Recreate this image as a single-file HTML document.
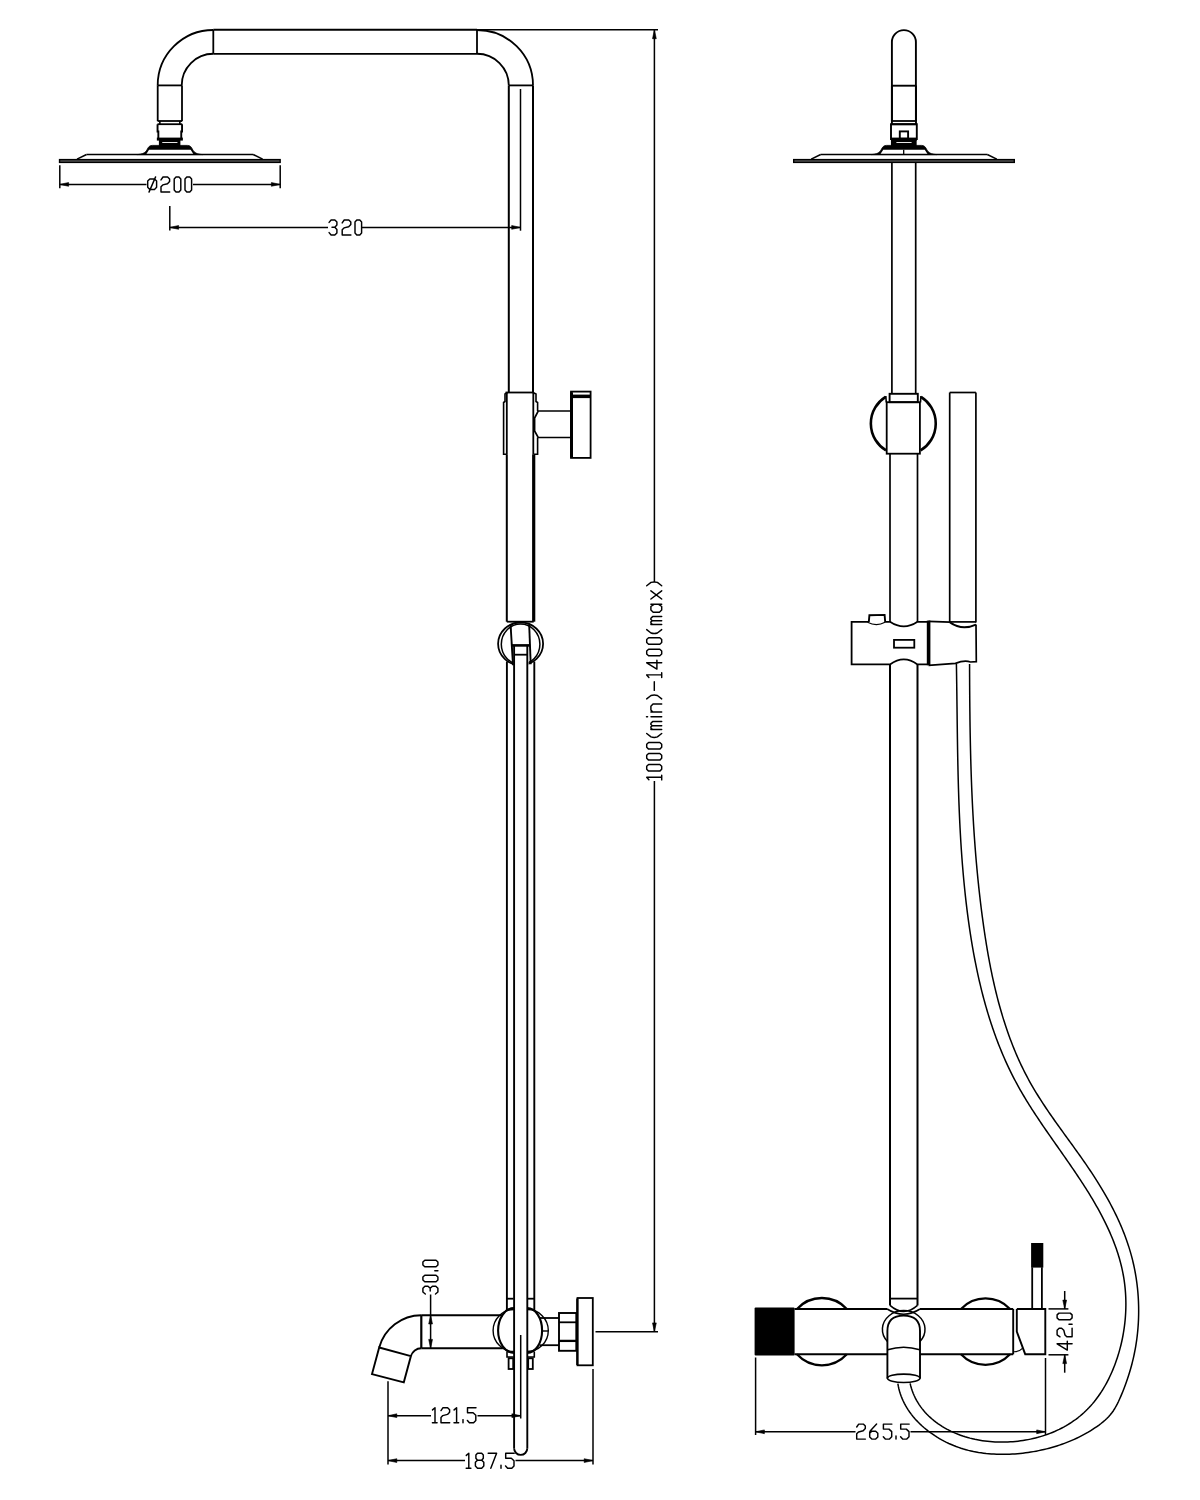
<!DOCTYPE html>
<html><head><meta charset="utf-8"><title>Shower system drawing</title>
<style>
html,body{margin:0;padding:0;background:#fff;}
body{width:1200px;height:1500px;overflow:hidden;font-family:"Liberation Sans",sans-serif;}
svg{display:block;}
</style></head>
<body>
<svg width="1200" height="1500" viewBox="0 0 1200 1500">
<rect width="1200" height="1500" fill="#fff"/>
<g stroke="#000" fill="none" stroke-linecap="butt" stroke-linejoin="miter">
<g transform="translate(169.85,0)">
<path d="M-12.15,85.40L-12.15,121.20" stroke-width="1.8"/>
<path d="M12.15,85.40L12.15,121.20" stroke-width="1.8"/>
<path d="M-12.15,121.00L12.15,121.00" stroke-width="1.8"/>
<path d="M-10.00,121.00L-10.00,124.20" stroke-width="1.6"/>
<path d="M10.00,121.00L10.00,124.20" stroke-width="1.6"/>
<path d="M-12.40,124.20L12.40,124.20" stroke-width="1.8"/>
<path d="M-12.3,124.3L-12.3,131.5L-11.5,131.5L-11.5,139.0L11.4,139.0L11.4,131.5L12.2,131.5L12.2,124.3" stroke-width="1.9" fill="none" />
<rect x="-13.0" y="137.6" width="26" height="3.0" fill="#000" stroke="none"/>
<rect x="-10.95" y="139.5" width="21.50" height="6.6" fill="#000" stroke="none"/>
<path d="M-7.6,142.5L7.6,142.5" stroke="#fff" stroke-width="0.9"/>
<path d="M-33,154.6C-27,154.2 -24.5,152.6 -23,150C-21.6,147.2 -20.6,145.4 -17.5,145.4L17.5,145.4C20.6,145.4 21.6,147.2 23,150C24.5,152.6 27,154.2 33,154.6Z" stroke-width="0.8" fill="#000" />
<path d="M-23.8,154.6L-20.8,149.7L20.8,149.7L23.8,154.6Z" stroke-width="0" fill="#fff" stroke="none"/>
<path d="M-83.30,154.50L83.30,154.50" stroke-width="1.7"/>
<path d="M-92.80,159.20L-83.30,154.50" stroke-width="1.5"/>
<path d="M92.80,159.20L83.30,154.50" stroke-width="1.5"/>
<rect x="-110.30" y="159.60" width="220.60" height="2.80" stroke-width="1.4" fill="#555"/>
</g>
<g transform="translate(904.00,0)">
<path d="M-12.10,85.40L-12.10,124.40" stroke-width="1.9"/>
<path d="M12.00,85.40L12.00,124.40" stroke-width="1.9"/>
<path d="M-12.10,121.00L12.00,121.00" stroke-width="1.8"/>
<path d="M-12.10,124.20L12.00,124.20" stroke-width="1.8"/>
<path d="M-13.0,124.3L12.8,124.3L12.8,139.0L-13.0,139.0Z" stroke-width="1.9" fill="none" />
<rect x="-4.20" y="131.40" width="8.30" height="7.40" stroke-width="1.9" fill="none"/>
<rect x="-13.0" y="137.6" width="26" height="3.0" fill="#000" stroke="none"/>
<rect x="-13.05" y="139.5" width="25.70" height="6.6" fill="#000" stroke="none"/>
<path d="M-7.6,142.5L7.6,142.5" stroke="#fff" stroke-width="0.9"/>
<path d="M-33,154.6C-27,154.2 -24.5,152.6 -23,150C-21.6,147.2 -20.6,145.4 -17.5,145.4L17.5,145.4C20.6,145.4 21.6,147.2 23,150C24.5,152.6 27,154.2 33,154.6Z" stroke-width="0.8" fill="#000" />
<path d="M-23.8,154.6L-20.8,149.7L20.8,149.7L23.8,154.6Z" stroke-width="0" fill="#fff" stroke="none"/>
<path d="M-0.30,149.70L-0.30,154.40" stroke-width="1.3"/>
<path d="M-83.30,154.50L83.30,154.50" stroke-width="1.7"/>
<path d="M-92.80,159.20L-83.30,154.50" stroke-width="1.5"/>
<path d="M92.80,159.20L83.30,154.50" stroke-width="1.5"/>
<rect x="-110.30" y="159.60" width="220.60" height="2.80" stroke-width="1.4" fill="#555"/>
</g>
<path d="M213.30,29.75L477.00,29.75" stroke-width="2.0"/>
<path d="M213.30,53.85L477.00,53.85" stroke-width="1.9"/>
<path d="M213.30,30.00L213.30,53.75" stroke-width="1.8"/>
<path d="M477.00,30.00L477.00,53.75" stroke-width="1.8"/>
<path d="M213.3,30.0A55.6,55.4 0 0 0 157.7,85.4" stroke-width="1.8" fill="none" />
<path d="M213.3,53.75A31.6,31.65 0 0 0 181.7,85.4" stroke-width="1.8" fill="none" />
<path d="M157.70,85.40L182.10,85.40" stroke-width="1.8"/>
<path d="M477.0,30.0A56,55.4 0 0 1 533.0,85.4" stroke-width="1.8" fill="none" />
<path d="M477.0,53.75A31.8,31.65 0 0 1 508.8,85.4" stroke-width="1.8" fill="none" />
<path d="M508.80,85.40L533.00,85.40" stroke-width="1.8"/>
<path d="M508.80,85.40L508.80,392.50" stroke-width="2.0"/>
<path d="M533.00,85.40L533.00,392.50" stroke-width="2.0"/>
<path d="M505.50,392.50L533.50,392.50" stroke-width="1.8"/>
<path d="M507.5,392.5L505.0,394.0L505.0,401.5L503.6,402.5L503.6,454.3L506.8,454.3" stroke-width="1.6" fill="none" />
<path d="M506.80,392.50L506.80,454.30" stroke-width="1.8"/>
<path d="M533.0,392.5L536.0,394.0L536.0,401.5L537.6,402.5L537.6,411.0" stroke-width="1.6" fill="none" />
<path d="M537.6,437.5L537.6,454.3L533.7,454.3" stroke-width="1.6" fill="none" />
<path d="M533.30,392.50L533.30,454.30" stroke-width="1.8"/>
<path d="M570.2,411.0L538.2,411.0L534.6,418.0L534.6,431.0L538.2,437.5L570.2,437.5" stroke-width="1.7" fill="none" />
<rect x="571.00" y="391.60" width="19.60" height="66.30" stroke-width="1.8" fill="none"/>
<rect x="570.0" y="392.2" width="3.0" height="65.5" fill="#000" stroke="none"/>
<rect x="572.5" y="394.6" width="18" height="3.5" fill="#000" stroke="none"/>
<path d="M506.80,454.30L506.80,621.70" stroke-width="2.0"/>
<path d="M533.70,454.30L533.70,621.70" stroke-width="3.2"/>
<ellipse cx="520.6" cy="643.8" rx="22.5" ry="21.3" stroke-width="1.8" fill="none"/>
<ellipse cx="520.6" cy="644.2" rx="19.3" ry="20.2" stroke-width="1.5" fill="none"/>
<rect x="513.0" y="650" width="15.6" height="18" fill="#fff" stroke="none"/>
<path d="M506.80,621.70L533.70,621.70" stroke-width="1.8"/>
<path d="M510.6,625.0L513.0,665.3" stroke-width="1.9" fill="none" />
<path d="M529.2,625.0L530.7,664.3" stroke-width="1.9" fill="none" />
<path d="M511.80,645.40L529.60,645.40" stroke-width="2.6"/>
<path d="M514.10,654.70L527.30,654.70" stroke-width="1.8"/>
<path d="M506.90,661.50L506.90,1310.70" stroke-width="1.9"/>
<path d="M534.30,661.50L534.30,1310.70" stroke-width="1.9"/>
<path d="M514.10,645.40L514.10,1448.30" stroke-width="1.9"/>
<path d="M527.30,645.40L527.30,1448.30" stroke-width="1.9"/>
<path d="M514.1,1448.3A6.6,6.6 0 0 0 527.3,1448.3" stroke-width="1.9" fill="none" />
<path d="M506.90,1298.70L513.60,1298.70" stroke-width="1.8"/>
<path d="M527.60,1298.70L534.30,1298.70" stroke-width="1.8"/>
<path d="M514.1,1308.0A16,22.5 0 0 0 514.1,1353.0" stroke-width="2.1" fill="none" />
<path d="M514.1,1309.5A21,21 0 0 0 514.1,1351.5" stroke-width="1.4" fill="none" />
<path d="M527.3,1308.0A14.8,22.5 0 0 1 527.3,1353.0" stroke-width="2.1" fill="none" />
<path d="M527.3,1309.5A21,21 0 0 1 527.3,1351.5" stroke-width="1.4" fill="none" />
<path d="M542.00,1331.00L548.20,1331.00" stroke-width="1.4"/>
<path d="M507.0,1351.5L507.0,1357.0L513.8,1357.0" stroke-width="1.6" fill="none" />
<path d="M534.3,1351.5L534.3,1357.0L527.4,1357.0" stroke-width="1.6" fill="none" />
<rect x="508.60" y="1358.30" width="4.60" height="10.70" stroke-width="1.8" fill="none"/>
<rect x="528.20" y="1358.30" width="4.60" height="10.70" stroke-width="1.8" fill="none"/>
<path d="M421.30,1315.20L502.80,1315.20" stroke-width="1.9"/>
<path d="M421.30,1348.20L502.80,1348.20" stroke-width="1.9"/>
<path d="M421.30,1315.20L421.30,1348.20" stroke-width="2.2"/>
<path d="M421.3,1315.2A43.7,43.7 0 0 0 379.2,1347.5" stroke-width="1.9" fill="none" />
<path d="M421.3,1348.2A10.8,10.8 0 0 0 410.9,1356.1" stroke-width="1.9" fill="none" />
<path d="M379.2,1347.5L410.9,1356.1L403.8,1382.3L372.0,1374.1Z" stroke-width="1.9" fill="none" />
<path d="M539.50,1318.00L558.90,1318.00" stroke-width="1.8"/>
<path d="M539.50,1345.20L558.90,1345.20" stroke-width="1.8"/>
<rect x="559.00" y="1313.00" width="17.30" height="37.80" stroke-width="1.9" fill="none"/>
<path d="M559.00,1322.30L576.30,1322.30" stroke-width="1.8"/>
<path d="M559.00,1340.90L576.30,1340.90" stroke-width="2.3"/>
<rect x="577.50" y="1298.00" width="15.30" height="67.30" stroke-width="1.8" fill="none"/>
<rect x="576.2" y="1298.5" width="2.2" height="66.5" fill="#000" stroke="none"/>
<path d="M891.9,121.0L891.9,42.1A12,12 0 0 1 915.9,42.1L915.9,121.0" stroke-width="1.9" fill="none" />
<path d="M891.90,85.70L915.90,85.70" stroke-width="1.9"/>
<path d="M891.90,162.50L891.90,393.50" stroke-width="1.7"/>
<path d="M915.70,162.50L915.70,393.50" stroke-width="1.7"/>
<rect x="889.60" y="393.80" width="28.20" height="8.40" stroke-width="1.9" fill="none"/>
<rect x="886.70" y="402.20" width="33.20" height="51.50" stroke-width="1.8" fill="none"/>
<path d="M885.6,396.8A31.5,31.5 0 0 0 886.0,450.4" stroke-width="2.6" fill="none" />
<path d="M921.0,396.8A31.5,31.5 0 0 1 920.6,450.4" stroke-width="2.6" fill="none" />
<path d="M885.80,396.00L886.30,402.50" stroke-width="1.6"/>
<path d="M920.90,396.00L920.50,402.50" stroke-width="1.6"/>
<path d="M890.00,453.70L890.00,622.00" stroke-width="1.7"/>
<path d="M917.50,453.70L917.50,622.00" stroke-width="1.7"/>
<path d="M949.70,392.50L975.90,392.50" stroke-width="1.7"/>
<path d="M949.70,392.50L949.70,622.00" stroke-width="1.7"/>
<path d="M975.90,392.50L975.90,622.50" stroke-width="1.7"/>
<path d="M868.0,621.8L851.6,621.8L851.6,664.4L890.0,664.4Q903.8,654.5 917.5,664.4L928.0,664.4" stroke-width="1.8" fill="none" />
<path d="M885.0,621.8L890.0,621.8Q903.8,631.0 917.5,621.8L928.0,621.8" stroke-width="1.8" fill="none" />
<rect x="926.8" y="620.6" width="3.6" height="44.6" fill="#000" stroke="none"/>
<rect x="894.00" y="639.90" width="20.30" height="7.80" stroke-width="1.8" fill="none"/>
<path d="M868.8,622.0L869.4,615.3L884.6,614.9L885.2,622.0" stroke-width="1.9" fill="none" />
<path d="M867.6,622.2Q876.5,627.0 885.0,622.2" stroke-width="1.3" fill="none" />
<path d="M928.5,621.4L950.0,622.2M976.0,624.6L976.3,661.6L970.5,662.0Q964.5,659.8 955.5,663.4L928.5,665.3" stroke-width="1.7" fill="none" />
<path d="M949.70,621.90L976.00,621.90" stroke-width="1.7"/>
<path d="M950.0,622.4Q962.0,631.0 976.0,624.6" stroke-width="2.0" fill="none" />
<path d="M890.00,664.40L890.00,1305.50" stroke-width="2.0"/>
<path d="M917.50,664.40L917.50,1305.50" stroke-width="2.0"/>
<path d="M890.00,1298.60L917.50,1298.60" stroke-width="1.8"/>
<path d="M890.0,1305.4Q903.6,1317.5 917.5,1305.4" stroke-width="1.5" fill="none" />
<path d="M887.2,1309.0Q903.6,1319.5 920.0,1309.0" stroke-width="1.5" fill="none" />
<path d="M797.0,1309.0A33.7,33.7 0 0 1 846.8,1309.0" stroke-width="2.3" fill="none" />
<path d="M797.0,1354.3A33.7,33.7 0 0 0 846.8,1354.3" stroke-width="2.3" fill="none" />
<path d="M961.0,1309.0A33.7,33.7 0 0 1 1010.0,1309.0" stroke-width="2.3" fill="none" />
<path d="M961.0,1354.3A33.7,33.7 0 0 0 1010.0,1354.3" stroke-width="2.3" fill="none" />
<path d="M794.50,1309.00L887.30,1309.00" stroke-width="1.9"/>
<path d="M920.00,1309.00L1013.20,1309.00" stroke-width="1.9"/>
<path d="M794.50,1354.30L887.30,1354.30" stroke-width="1.9"/>
<path d="M920.00,1354.30L1013.20,1354.30" stroke-width="1.9"/>
<path d="M1013.20,1309.00L1013.20,1354.30" stroke-width="1.9"/>
<rect x="754.6" y="1307.4" width="40" height="48.2" rx="1" fill="#000" stroke="none"/>
<path d="M887.4,1341.5A21.3,18.8 0 1 1 920.0,1341.5" stroke-width="1.5" fill="none" />
<path d="M887.4,1378.5L887.4,1331.0Q887.4,1315.6 903.6,1315.6Q920.0,1315.6 920.0,1331.0L920.0,1378.5" stroke-width="1.9" fill="none" />
<path d="M887.6,1349.8Q903.6,1344.6 919.8,1349.8" stroke-width="1.6" fill="none" />
<ellipse cx="903.7" cy="1378.3" rx="16.3" ry="4.2" stroke-width="1.6" fill="none"/>
<path d="M1016.8,1309.0L1045.3,1309.0L1045.3,1354.2L1025.2,1354.2L1016.8,1331.7L1016.8,1309.0" stroke-width="1.9" fill="none" />
<path d="M1013.4,1351.7Q1019.0,1352.0 1022.4,1348.3" stroke-width="1.1" fill="none" />
<path d="M1032.20,1267.30L1032.20,1309.00" stroke-width="1.8"/>
<path d="M1041.90,1267.30L1041.90,1309.00" stroke-width="1.8"/>
<rect x="1031.1" y="1243.0" width="12.2" height="24.6" fill="#000" stroke="none"/>
<path d="M969.57,663.96L969.58,666.61L969.58,669.25L969.59,671.90L969.60,674.55L969.61,677.19L969.63,679.83L969.64,682.48L969.65,685.12L969.67,687.76L969.68,690.40L969.70,693.04L969.72,695.67L969.74,698.31L969.76,700.95L969.79,703.58L969.81,706.22L969.84,708.85L969.87,711.48L969.90,714.11L969.93,716.74L969.96,719.37L970.00,722.00L970.03,724.63L970.07,727.26L970.12,729.89L970.16,732.52L970.21,735.14L970.26,737.77L970.31,740.39L970.36,743.02L970.42,745.64L970.47,748.26L970.54,750.88L970.60,753.51L970.67,756.13L970.73,758.75L970.81,761.37L970.88,763.99L970.96,766.61L971.04,769.23L971.12,771.84L971.21,774.46L971.30,777.08L971.39,779.70L971.49,782.31L971.59,784.93L971.69,787.54L971.80,790.16L971.91,792.78L972.03,795.39L972.14,798.00L972.27,800.62L972.39,803.23L972.52,805.85L972.65,808.46L972.79,811.07L972.93,813.69L973.08,816.30L973.22,818.91L973.38,821.52L973.53,824.13L973.70,826.75L973.86,829.36L974.03,831.97L974.21,834.58L974.39,837.19L974.57,839.80L974.76,842.42L974.95,845.03L975.15,847.64L975.35,850.25L975.56,852.86L975.77,855.47L975.99,858.08L976.21,860.69L976.44,863.30L976.68,865.92L976.91,868.53L977.16,871.14L977.41,873.75L977.66,876.36L977.92,878.97L978.19,881.59L978.46,884.20L978.73,886.81L979.01,889.42L979.30,892.04L979.60,894.65L979.90,897.26L980.20,899.88L980.51,902.49L980.83,905.10L981.15,907.72L981.48,910.33L981.82,912.95L982.16,915.56L982.51,918.18L982.87,920.80L983.23,923.41L983.60,926.03L983.97,928.64L984.35,931.26L984.74,933.88L985.14,936.49L985.55,939.11L985.96,941.72L986.38,944.33L986.81,946.95L987.25,949.56L987.70,952.16L988.16,954.77L988.63,957.38L989.11,959.98L989.59,962.58L990.09,965.18L990.60,967.77L991.12,970.36L991.65,972.95L992.19,975.54L992.74,978.12L993.31,980.70L993.89,983.28L994.48,985.85L995.08,988.42L995.69,990.98L996.32,993.54L996.96,996.09L997.61,998.64L998.28,1001.19L998.96,1003.73L999.66,1006.26L1000.37,1008.79L1001.09,1011.32L1001.83,1013.83L1002.58,1016.34L1003.35,1018.85L1004.14,1021.35L1004.94,1023.84L1005.75,1026.33L1006.59,1028.81L1007.44,1031.28L1008.30,1033.75L1009.19,1036.20L1010.09,1038.65L1011.00,1041.10L1011.94,1043.53L1012.89,1045.96L1013.86,1048.38L1014.85,1050.78L1015.86,1053.19L1016.89,1055.58L1017.94,1057.96L1019.00,1060.34L1020.09,1062.70L1021.19,1065.06L1022.32,1067.40L1023.46,1069.74L1024.63,1072.07L1025.82,1074.38L1027.02,1076.69L1028.25,1078.98L1029.50,1081.27L1030.77,1083.54L1032.07,1085.81L1033.38,1088.06L1034.71,1090.30L1036.06,1092.54L1037.43,1094.76L1038.82,1096.98L1040.22,1099.19L1041.64,1101.39L1043.07,1103.59L1044.51,1105.78L1045.97,1107.96L1047.44,1110.13L1048.92,1112.31L1050.41,1114.47L1051.92,1116.63L1053.42,1118.79L1054.94,1120.95L1056.47,1123.10L1058.00,1125.25L1059.54,1127.39L1061.08,1129.54L1062.62,1131.68L1064.17,1133.82L1065.72,1135.96L1067.27,1138.10L1068.82,1140.24L1070.38,1142.39L1071.93,1144.53L1073.48,1146.67L1075.02,1148.82L1076.57,1150.97L1078.11,1153.12L1079.64,1155.28L1081.17,1157.44L1082.69,1159.60L1084.20,1161.77L1085.71,1163.94L1087.20,1166.12L1088.69,1168.30L1090.17,1170.49L1091.63,1172.69L1093.08,1174.89L1094.52,1177.11L1095.94,1179.33L1097.36,1181.55L1098.75,1183.79L1100.13,1186.03L1101.50,1188.28L1102.85,1190.53L1104.18,1192.80L1105.49,1195.07L1106.79,1197.36L1108.07,1199.65L1109.33,1201.94L1110.57,1204.25L1111.79,1206.57L1112.99,1208.89L1114.17,1211.23L1115.33,1213.57L1116.47,1215.92L1117.58,1218.28L1118.67,1220.65L1119.74,1223.03L1120.78,1225.42L1121.80,1227.82L1122.79,1230.23L1123.75,1232.65L1124.69,1235.07L1125.61,1237.51L1126.49,1239.96L1127.35,1242.42L1128.18,1244.89L1128.98,1247.37L1129.75,1249.86L1130.49,1252.36L1131.20,1254.87L1131.87,1257.40L1132.52,1259.93L1133.13,1262.48L1133.72,1265.03L1134.27,1267.60L1134.78,1270.17L1135.27,1272.76L1135.72,1275.35L1136.14,1277.95L1136.53,1280.56L1136.88,1283.17L1137.21,1285.79L1137.50,1288.41L1137.76,1291.04L1137.98,1293.68L1138.18,1296.31L1138.34,1298.95L1138.47,1301.59L1138.56,1304.24L1138.63,1306.88L1138.66,1309.53L1138.66,1312.17L1138.63,1314.82L1138.56,1317.46L1138.47,1320.11L1138.34,1322.74L1138.17,1325.38L1137.98,1328.01L1137.75,1330.64L1137.49,1333.27L1137.20,1335.89L1136.88,1338.50L1136.52,1341.11L1136.13,1343.71L1135.71,1346.30L1135.26,1348.88L1134.77,1351.46L1134.25,1354.02L1133.70,1356.58L1133.12,1359.13L1132.50,1361.68L1131.86,1364.21L1131.18,1366.74L1130.47,1369.26L1129.73,1371.78L1128.96,1374.28L1128.16,1376.79L1127.33,1379.28L1126.47,1381.77L1125.58,1384.26L1124.66,1386.73L1123.71,1389.21L1122.73,1391.68L1121.72,1394.14L1120.68,1396.60L1119.61,1399.05L1118.50,1401.48L1117.33,1403.88L1116.10,1406.22L1114.79,1408.50L1113.40,1410.69L1111.90,1412.79L1110.30,1414.79L1108.61,1416.69L1106.83,1418.51L1104.97,1420.24L1103.04,1421.90L1101.05,1423.50L1099.01,1425.05L1096.92,1426.54L1094.79,1427.99L1092.62,1429.41L1090.43,1430.78L1088.20,1432.12L1085.94,1433.41L1083.65,1434.67L1081.34,1435.89L1078.99,1437.07L1076.62,1438.21L1074.23,1439.31L1071.81,1440.38L1069.36,1441.40L1066.90,1442.38L1064.42,1443.33L1061.91,1444.24L1059.39,1445.10L1056.85,1445.93L1054.30,1446.72L1051.73,1447.47L1049.15,1448.18L1046.56,1448.86L1043.95,1449.49L1041.34,1450.08L1038.71,1450.64L1036.08,1451.16L1033.45,1451.63L1030.80,1452.07L1028.16,1452.47L1025.51,1452.83L1022.86,1453.15L1020.21,1453.43L1017.56,1453.68L1014.91,1453.88L1012.26,1454.04L1009.62,1454.17L1006.98,1454.26L1004.35,1454.30L1001.73,1454.31L999.12,1454.28L996.51,1454.21L993.92,1454.09L991.33,1453.94L988.75,1453.73L986.18,1453.49L983.62,1453.19L981.07,1452.85L978.53,1452.46L976.00,1452.01L973.48,1451.52L970.97,1450.97L968.46,1450.37L965.97,1449.71L963.49,1449.00L961.02,1448.23L958.56,1447.39L956.11,1446.50L953.68,1445.55L951.25,1444.53L948.84,1443.46L946.44,1442.32L944.07,1441.12L941.72,1439.86L939.40,1438.54L937.10,1437.17L934.84,1435.73L932.62,1434.24L930.43,1432.70L928.28,1431.10L926.18,1429.44L924.13,1427.74L922.13,1425.97L920.18,1424.16L918.29,1422.30L916.46,1420.38L914.70,1418.42L913.00,1416.41L911.37,1414.35L909.81,1412.24L908.32,1410.08L906.92,1407.88L905.60,1405.64L904.36,1403.35L903.21,1401.01L902.15,1398.64L901.18,1396.22L900.31,1393.76L899.54,1391.26L898.87,1388.72L898.31,1386.14L897.86,1383.52" stroke-width="1.5" fill="none" stroke-linejoin="round"/>
<path d="M956.40,663.97L956.45,666.50L956.49,669.03L956.53,671.55L956.57,674.08L956.61,676.60L956.64,679.13L956.68,681.65L956.72,684.18L956.75,686.70L956.78,689.22L956.82,691.75L956.85,694.27L956.88,696.79L956.91,699.31L956.94,701.83L956.97,704.36L957.01,706.88L957.04,709.40L957.07,711.91L957.10,714.43L957.13,716.95L957.16,719.47L957.19,721.99L957.22,724.51L957.26,727.02L957.29,729.54L957.32,732.06L957.36,734.57L957.39,737.09L957.43,739.60L957.47,742.12L957.51,744.63L957.55,747.15L957.59,749.66L957.63,752.17L957.68,754.69L957.72,757.20L957.77,759.71L957.82,762.23L957.87,764.74L957.93,767.25L957.98,769.76L958.04,772.27L958.10,774.78L958.16,777.29L958.23,779.80L958.29,782.31L958.36,784.82L958.43,787.33L958.51,789.84L958.59,792.35L958.67,794.86L958.75,797.37L958.84,799.88L958.93,802.38L959.02,804.89L959.12,807.40L959.22,809.91L959.32,812.41L959.43,814.92L959.54,817.43L959.66,819.93L959.77,822.44L959.90,824.94L960.02,827.45L960.16,829.96L960.29,832.46L960.43,834.97L960.57,837.47L960.72,839.98L960.87,842.48L961.03,844.99L961.19,847.49L961.36,849.99L961.53,852.50L961.71,855.00L961.89,857.51L962.08,860.01L962.27,862.51L962.47,865.02L962.68,867.52L962.89,870.02L963.10,872.52L963.32,875.03L963.55,877.53L963.78,880.03L964.02,882.53L964.26,885.04L964.51,887.54L964.77,890.04L965.03,892.54L965.30,895.05L965.58,897.55L965.86,900.05L966.15,902.55L966.45,905.05L966.75,907.55L967.06,910.06L967.38,912.56L967.70,915.06L968.03,917.56L968.37,920.06L968.72,922.56L969.07,925.07L969.43,927.57L969.80,930.07L970.18,932.57L970.57,935.07L970.96,937.56L971.36,940.06L971.77,942.56L972.19,945.05L972.62,947.55L973.06,950.04L973.50,952.53L973.96,955.02L974.42,957.51L974.90,959.99L975.38,962.47L975.88,964.96L976.38,967.43L976.90,969.91L977.42,972.38L977.96,974.85L978.51,977.32L979.06,979.79L979.63,982.25L980.21,984.70L980.80,987.16L981.40,989.61L982.02,992.06L982.64,994.50L983.28,996.94L983.93,999.38L984.59,1001.81L985.26,1004.23L985.95,1006.66L986.65,1009.07L987.36,1011.49L988.08,1013.89L988.82,1016.30L989.57,1018.69L990.33,1021.09L991.11,1023.47L991.90,1025.86L992.70,1028.23L993.52,1030.60L994.36,1032.97L995.20,1035.32L996.06,1037.68L996.94,1040.02L997.83,1042.36L998.73,1044.69L999.65,1047.02L1000.59,1049.34L1001.54,1051.65L1002.51,1053.96L1003.49,1056.25L1004.48,1058.54L1005.50,1060.83L1006.53,1063.10L1007.57,1065.37L1008.63,1067.63L1009.71,1069.88L1010.80,1072.13L1011.91,1074.36L1013.04,1076.59L1014.19,1078.81L1015.35,1081.02L1016.53,1083.22L1017.72,1085.41L1018.94,1087.59L1020.17,1089.77L1021.41,1091.93L1022.67,1094.09L1023.95,1096.25L1025.23,1098.39L1026.53,1100.53L1027.85,1102.67L1029.17,1104.79L1030.51,1106.91L1031.86,1109.03L1033.22,1111.14L1034.59,1113.25L1035.97,1115.35L1037.36,1117.45L1038.75,1119.54L1040.16,1121.63L1041.57,1123.72L1042.99,1125.80L1044.41,1127.88L1045.84,1129.96L1047.27,1132.03L1048.71,1134.11L1050.15,1136.18L1051.60,1138.25L1053.05,1140.33L1054.50,1142.40L1055.95,1144.47L1057.41,1146.54L1058.86,1148.61L1060.31,1150.68L1061.77,1152.75L1063.22,1154.83L1064.67,1156.90L1066.12,1158.98L1067.57,1161.06L1069.01,1163.14L1070.45,1165.23L1071.88,1167.32L1073.31,1169.41L1074.74,1171.50L1076.16,1173.60L1077.57,1175.71L1078.97,1177.81L1080.37,1179.93L1081.76,1182.05L1083.14,1184.17L1084.51,1186.30L1085.87,1188.43L1087.22,1190.58L1088.55,1192.73L1089.88,1194.88L1091.20,1197.05L1092.50,1199.22L1093.78,1201.39L1095.06,1203.58L1096.31,1205.77L1097.55,1207.97L1098.78,1210.17L1099.99,1212.38L1101.17,1214.60L1102.34,1216.83L1103.49,1219.07L1104.62,1221.31L1105.73,1223.56L1106.82,1225.82L1107.88,1228.09L1108.92,1230.37L1109.94,1232.65L1110.93,1234.94L1111.90,1237.24L1112.84,1239.55L1113.75,1241.87L1114.64,1244.19L1115.49,1246.53L1116.32,1248.87L1117.12,1251.22L1117.89,1253.58L1118.63,1255.95L1119.33,1258.33L1120.01,1260.72L1120.65,1263.11L1121.25,1265.52L1121.82,1267.94L1122.36,1270.36L1122.86,1272.79L1123.32,1275.24L1123.75,1277.69L1124.13,1280.15L1124.48,1282.63L1124.79,1285.11L1125.06,1287.60L1125.29,1290.10L1125.49,1292.60L1125.64,1295.11L1125.76,1297.63L1125.83,1300.15L1125.88,1302.67L1125.88,1305.20L1125.84,1307.73L1125.77,1310.26L1125.66,1312.79L1125.51,1315.32L1125.32,1317.85L1125.10,1320.38L1124.84,1322.91L1124.54,1325.44L1124.20,1327.96L1123.83,1330.48L1123.42,1332.99L1122.97,1335.50L1122.49,1338.00L1121.97,1340.50L1121.41,1342.98L1120.82,1345.46L1120.19,1347.93L1119.52,1350.39L1118.82,1352.84L1118.08,1355.27L1117.31,1357.70L1116.50,1360.11L1115.65,1362.51L1114.77,1364.89L1113.85,1367.26L1112.90,1369.61L1111.91,1371.95L1110.88,1374.26L1109.82,1376.56L1108.72,1378.83L1107.57,1381.08L1106.40,1383.30L1105.18,1385.50L1103.92,1387.67L1102.62,1389.81L1101.29,1391.92L1099.91,1394.00L1098.49,1396.05L1097.03,1398.06L1095.53,1400.04L1093.99,1401.97L1092.40,1403.87L1090.77,1405.73L1089.10,1407.55L1087.39,1409.33L1085.63,1411.06L1083.82,1412.75L1081.98,1414.39L1080.09,1415.98L1078.16,1417.53L1076.19,1419.03L1074.18,1420.49L1072.14,1421.90L1070.06,1423.26L1067.94,1424.57L1065.80,1425.84L1063.62,1427.06L1061.41,1428.23L1059.18,1429.36L1056.92,1430.43L1054.63,1431.46L1052.31,1432.44L1049.97,1433.37L1047.61,1434.25L1045.23,1435.09L1042.83,1435.88L1040.41,1436.62L1037.97,1437.32L1035.52,1437.96L1033.05,1438.56L1030.56,1439.11L1028.07,1439.62L1025.56,1440.08L1023.04,1440.49L1020.52,1440.85L1017.98,1441.17L1015.44,1441.44L1012.90,1441.66L1010.35,1441.84L1007.79,1441.97L1005.24,1442.05L1002.69,1442.09L1000.13,1442.08L997.58,1442.02L995.03,1441.92L992.49,1441.76L989.95,1441.56L987.43,1441.31L984.90,1441.01L982.39,1440.66L979.89,1440.26L977.40,1439.81L974.93,1439.31L972.47,1438.75L970.02,1438.14L967.60,1437.48L965.19,1436.77L962.80,1436.00L960.43,1435.17L958.08,1434.29L955.76,1433.36L953.46,1432.37L951.18,1431.32L948.94,1430.21L946.73,1429.05L944.55,1427.83L942.40,1426.55L940.30,1425.22L938.24,1423.82L936.22,1422.37L934.25,1420.86L932.34,1419.29L930.47,1417.66L928.66,1415.97L926.91,1414.22L925.22,1412.42L923.60,1410.55L922.04,1408.62L920.55,1406.63L919.14,1404.58L917.80,1402.47L916.54,1400.30L915.36,1398.07L914.26,1395.78L913.25,1393.42L912.32,1391.00L911.49,1388.52L910.76,1385.98L910.12,1383.38" stroke-width="1.5" fill="none" stroke-linejoin="round"/>
<path d="M477.00,29.70L658.00,29.70" stroke-width="1.4"/>
<path d="M654.40,30.00L654.40,582.00" stroke-width="1.5"/>
<path d="M654.40,781.00L654.40,1331.70" stroke-width="1.5"/>
<path d="M654.40,29.90L656.30,38.70L652.50,38.70Z" fill="#000" stroke-width="0.6"/>
<path d="M654.40,1331.70L652.50,1322.90L656.30,1322.90Z" fill="#000" stroke-width="0.6"/>
<path d="M595.50,1331.70L658.00,1331.70" stroke-width="1.5"/>
<path d="M59.80,165.30L59.80,188.30" stroke-width="1.5"/>
<path d="M280.20,165.30L280.20,188.30" stroke-width="1.5"/>
<path d="M59.80,184.40L146.50,184.40" stroke-width="1.5"/>
<path d="M193.00,184.40L280.20,184.40" stroke-width="1.5"/>
<path d="M59.80,184.40L68.60,182.50L68.60,186.30Z" fill="#000" stroke-width="0.6"/>
<path d="M280.20,184.40L271.40,186.30L271.40,182.50Z" fill="#000" stroke-width="0.6"/>
<path d="M169.80,206.00L169.80,230.50" stroke-width="1.5"/>
<path d="M520.50,89.00L520.50,230.70" stroke-width="1.5"/>
<path d="M169.80,227.40L328.00,227.40" stroke-width="1.5"/>
<path d="M362.00,227.40L520.50,227.40" stroke-width="1.5"/>
<path d="M169.80,227.40L178.60,225.50L178.60,229.30Z" fill="#000" stroke-width="0.6"/>
<path d="M520.50,227.40L511.70,229.30L511.70,225.50Z" fill="#000" stroke-width="0.6"/>
<path d="M430.60,1294.50L430.60,1348.20" stroke-width="1.5"/>
<path d="M430.60,1315.20L432.50,1324.00L428.70,1324.00Z" fill="#000" stroke-width="0.6"/>
<path d="M430.60,1348.20L428.70,1339.40L432.50,1339.40Z" fill="#000" stroke-width="0.6"/>
<path d="M388.00,1381.30L388.00,1464.50" stroke-width="1.5"/>
<path d="M593.00,1369.00L593.00,1464.50" stroke-width="1.5"/>
<path d="M520.70,1335.00L520.70,1418.50" stroke-width="1.5"/>
<path d="M388.00,1415.70L431.00,1415.70" stroke-width="1.5"/>
<path d="M477.50,1415.70L520.70,1415.70" stroke-width="1.5"/>
<path d="M388.00,1415.70L396.80,1413.80L396.80,1417.60Z" fill="#000" stroke-width="0.6"/>
<path d="M520.70,1415.70L511.90,1417.60L511.90,1413.80Z" fill="#000" stroke-width="0.6"/>
<path d="M388.00,1460.60L465.00,1460.60" stroke-width="1.5"/>
<path d="M515.50,1460.60L593.00,1460.60" stroke-width="1.5"/>
<path d="M388.00,1460.60L396.80,1458.70L396.80,1462.50Z" fill="#000" stroke-width="0.6"/>
<path d="M593.00,1460.60L584.20,1462.50L584.20,1458.70Z" fill="#000" stroke-width="0.6"/>
<path d="M755.60,1357.50L755.60,1435.00" stroke-width="1.5"/>
<path d="M1045.50,1358.00L1045.50,1435.00" stroke-width="1.5"/>
<path d="M755.60,1431.80L855.50,1431.80" stroke-width="1.5"/>
<path d="M910.50,1431.80L1045.50,1431.80" stroke-width="1.5"/>
<path d="M755.60,1431.80L764.40,1429.90L764.40,1433.70Z" fill="#000" stroke-width="0.6"/>
<path d="M1045.50,1431.80L1036.70,1433.70L1036.70,1429.90Z" fill="#000" stroke-width="0.6"/>
<path d="M1048.50,1308.90L1068.40,1308.90" stroke-width="1.5"/>
<path d="M1048.50,1354.80L1068.40,1354.80" stroke-width="1.5"/>
<path d="M1064.70,1291.00L1064.70,1308.90" stroke-width="1.5"/>
<path d="M1064.70,1354.80L1064.70,1372.70" stroke-width="1.5"/>
<path d="M1064.70,1308.90L1062.80,1300.10L1066.60,1300.10Z" fill="#000" stroke-width="0.6"/>
<path d="M1064.70,1354.80L1066.60,1363.60L1062.80,1363.60Z" fill="#000" stroke-width="0.6"/>
<path transform="translate(147.00,176.30)" d="M2.8,2.7L7.5,2.7L9.6,4.8L9.6,11.0L7.5,13.1L2.8,13.1L0.7,11.0L0.7,4.8ZM8.6,0.6L2.0,15.8" stroke-width="1.45" stroke-linejoin="round" stroke-linecap="round"/>
<path transform="translate(160.30,176.30)" d="M0.7,3.6L2.7,0.7L7.3,0.7L9.3,2.7L9.3,5.2L7.2,7.4L2.5,8.6L0.7,10.4L0.7,15.7L9.4,15.7" stroke-width="1.45" stroke-linejoin="round" stroke-linecap="round"/>
<path transform="translate(173.50,176.30)" d="M2.5,0.7L5.5,0.7L7.3,2.6L7.3,13.8L5.5,15.7L2.5,15.7L0.7,13.8L0.7,2.6Z" stroke-width="1.45" stroke-linejoin="round" stroke-linecap="round"/>
<path transform="translate(184.30,176.30)" d="M2.5,0.7L5.5,0.7L7.3,2.6L7.3,13.8L5.5,15.7L2.5,15.7L0.7,13.8L0.7,2.6Z" stroke-width="1.45" stroke-linejoin="round" stroke-linecap="round"/>
<path transform="translate(328.40,219.30)" d="M0.7,3.1L2.7,0.7L6.5,0.7L8.5,2.7L8.5,5.8L6.4,8.0L3.6,8.0M6.4,8.0L8.5,10.2L8.5,13.6L6.4,15.7L2.7,15.7L0.7,13.3" stroke-width="1.45" stroke-linejoin="round" stroke-linecap="round"/>
<path transform="translate(341.50,219.30)" d="M0.7,3.6L2.7,0.7L7.3,0.7L9.3,2.7L9.3,5.2L7.2,7.4L2.5,8.6L0.7,10.4L0.7,15.7L9.4,15.7" stroke-width="1.45" stroke-linejoin="round" stroke-linecap="round"/>
<path transform="translate(354.30,219.30)" d="M2.5,0.7L5.5,0.7L7.3,2.6L7.3,13.8L5.5,15.7L2.5,15.7L0.7,13.8L0.7,2.6Z" stroke-width="1.45" stroke-linejoin="round" stroke-linecap="round"/>
<path transform="translate(431.70,1407.00)" d="M0.8,2.9L3.3,0.7L3.3,15.7M0.7,15.7L5.4,15.7" stroke-width="1.45" stroke-linejoin="round" stroke-linecap="round"/>
<path transform="translate(440.30,1407.00)" d="M0.7,3.6L2.7,0.7L7.3,0.7L9.3,2.7L9.3,5.2L7.2,7.4L2.5,8.6L0.7,10.4L0.7,15.7L9.4,15.7" stroke-width="1.45" stroke-linejoin="round" stroke-linecap="round"/>
<path transform="translate(453.30,1407.00)" d="M0.8,2.9L3.3,0.7L3.3,15.7M0.7,15.7L5.4,15.7" stroke-width="1.45" stroke-linejoin="round" stroke-linecap="round"/>
<path transform="translate(462.00,1407.00)" d="M1.0,12.6L1.0,15.7" stroke-width="1.45" stroke-linejoin="round" stroke-linecap="round"/>
<path transform="translate(466.60,1407.00)" d="M9.4,0.7L0.9,0.7L0.9,5.7L6.5,5.7L9.2,8.2L9.2,13.4L7.0,15.7L2.8,15.7L0.8,13.4" stroke-width="1.45" stroke-linejoin="round" stroke-linecap="round"/>
<path transform="translate(465.50,1452.50)" d="M0.8,2.9L3.3,0.7L3.3,15.7M0.7,15.7L5.4,15.7" stroke-width="1.45" stroke-linejoin="round" stroke-linecap="round"/>
<path transform="translate(474.70,1452.50)" d="M2.8,0.7L7.0,0.7L8.6,2.4L8.6,5.7L7.0,7.7L2.8,7.7L1.2,5.7L1.2,2.4ZM2.8,7.7L7.0,7.7L9.1,9.8L9.1,13.6L7.0,15.7L2.8,15.7L0.7,13.6L0.7,9.8Z" stroke-width="1.45" stroke-linejoin="round" stroke-linecap="round"/>
<path transform="translate(487.50,1452.50)" d="M0.7,0.7L9.1,0.7L3.3,15.7" stroke-width="1.45" stroke-linejoin="round" stroke-linecap="round"/>
<path transform="translate(500.00,1452.50)" d="M1.0,12.6L1.0,15.7" stroke-width="1.45" stroke-linejoin="round" stroke-linecap="round"/>
<path transform="translate(504.80,1452.50)" d="M9.4,0.7L0.9,0.7L0.9,5.7L6.5,5.7L9.2,8.2L9.2,13.4L7.0,15.7L2.8,15.7L0.8,13.4" stroke-width="1.45" stroke-linejoin="round" stroke-linecap="round"/>
<path transform="translate(856.00,1423.40)" d="M0.7,3.6L2.7,0.7L7.3,0.7L9.3,2.7L9.3,5.2L7.2,7.4L2.5,8.6L0.7,10.4L0.7,15.7L9.4,15.7" stroke-width="1.45" stroke-linejoin="round" stroke-linecap="round"/>
<path transform="translate(869.00,1423.40)" d="M7.6,0.7L1.6,7.0L0.7,9.0L0.7,13.6L2.8,15.7L6.7,15.7L8.8,13.6L8.8,9.9L6.7,7.8L2.8,7.8L0.9,9.6" stroke-width="1.45" stroke-linejoin="round" stroke-linecap="round"/>
<path transform="translate(882.50,1423.40)" d="M9.4,0.7L0.9,0.7L0.9,5.7L6.5,5.7L9.2,8.2L9.2,13.4L7.0,15.7L2.8,15.7L0.8,13.4" stroke-width="1.45" stroke-linejoin="round" stroke-linecap="round"/>
<path transform="translate(895.00,1423.40)" d="M1.0,12.6L1.0,15.7" stroke-width="1.45" stroke-linejoin="round" stroke-linecap="round"/>
<path transform="translate(899.80,1423.40)" d="M9.4,0.7L0.9,0.7L0.9,5.7L6.5,5.7L9.2,8.2L9.2,13.4L7.0,15.7L2.8,15.7L0.8,13.4" stroke-width="1.45" stroke-linejoin="round" stroke-linecap="round"/>
<g transform="translate(422.20,1294.70) rotate(-90)">
<path transform="translate(0.00,0)" d="M0.7,3.1L2.7,0.7L6.5,0.7L8.5,2.7L8.5,5.8L6.4,8.0L3.6,8.0M6.4,8.0L8.5,10.2L8.5,13.6L6.4,15.7L2.7,15.7L0.7,13.3" stroke-width="1.45" stroke-linejoin="round" stroke-linecap="round"/>
<path transform="translate(12.20,0)" d="M2.5,0.7L5.5,0.7L7.3,2.6L7.3,13.8L5.5,15.7L2.5,15.7L0.7,13.8L0.7,2.6Z" stroke-width="1.45" stroke-linejoin="round" stroke-linecap="round"/>
<path transform="translate(22.90,0)" d="M1.0,12.6L1.0,15.7" stroke-width="1.45" stroke-linejoin="round" stroke-linecap="round"/>
<path transform="translate(27.20,0)" d="M2.5,0.7L5.5,0.7L7.3,2.6L7.3,13.8L5.5,15.7L2.5,15.7L0.7,13.8L0.7,2.6Z" stroke-width="1.45" stroke-linejoin="round" stroke-linecap="round"/>
</g>
<g transform="translate(1056.40,1350.80) rotate(-90)">
<path transform="translate(0.00,0)" d="M7.0,15.7L7.0,0.7L0.7,10.9L9.6,10.9" stroke-width="1.45" stroke-linejoin="round" stroke-linecap="round"/>
<path transform="translate(13.30,0)" d="M0.7,3.6L2.7,0.7L7.3,0.7L9.3,2.7L9.3,5.2L7.2,7.4L2.5,8.6L0.7,10.4L0.7,15.7L9.4,15.7" stroke-width="1.45" stroke-linejoin="round" stroke-linecap="round"/>
<path transform="translate(25.60,0)" d="M1.0,12.6L1.0,15.7" stroke-width="1.45" stroke-linejoin="round" stroke-linecap="round"/>
<path transform="translate(30.40,0)" d="M2.5,0.7L5.5,0.7L7.3,2.6L7.3,13.8L5.5,15.7L2.5,15.7L0.7,13.8L0.7,2.6Z" stroke-width="1.45" stroke-linejoin="round" stroke-linecap="round"/>
</g>
<g transform="translate(646.00,780.60) rotate(-90)">
<path transform="translate(0.00,0)" d="M0.8,2.9L3.3,0.7L3.3,15.7M0.7,15.7L5.4,15.7" stroke-width="1.45" stroke-linejoin="round" stroke-linecap="round"/>
<path transform="translate(8.80,0)" d="M2.5,0.7L5.5,0.7L7.3,2.6L7.3,13.8L5.5,15.7L2.5,15.7L0.7,13.8L0.7,2.6Z" stroke-width="1.45" stroke-linejoin="round" stroke-linecap="round"/>
<path transform="translate(19.80,0)" d="M2.5,0.7L5.5,0.7L7.3,2.6L7.3,13.8L5.5,15.7L2.5,15.7L0.7,13.8L0.7,2.6Z" stroke-width="1.45" stroke-linejoin="round" stroke-linecap="round"/>
<path transform="translate(30.80,0)" d="M2.5,0.7L5.5,0.7L7.3,2.6L7.3,13.8L5.5,15.7L2.5,15.7L0.7,13.8L0.7,2.6Z" stroke-width="1.45" stroke-linejoin="round" stroke-linecap="round"/>
<path transform="translate(42.20,0)" d="M4.9,0.7L1.5,5.0Q0.5,8.2 1.5,11.4L4.9,15.7" stroke-width="1.45" stroke-linejoin="round" stroke-linecap="round"/>
<path transform="translate(50.20,0)" d="M0.8,15.7L0.8,4.9M0.8,6.6L2.3,4.9L3.5,4.9L4.7,6.4L4.7,15.7M4.7,6.4L5.9,4.9L7.2,4.9L8.8,6.6L8.8,15.7" stroke-width="1.45" stroke-linejoin="round" stroke-linecap="round"/>
<path transform="translate(62.90,0)" d="M1.0,5.0L1.0,15.7M1.0,0.5L1.0,1.6" stroke-width="1.45" stroke-linejoin="round" stroke-linecap="round"/>
<path transform="translate(67.80,0)" d="M0.8,4.9L0.8,15.7M0.8,6.8L2.8,4.9L6.6,4.9L8.8,7.0L8.8,15.7" stroke-width="1.45" stroke-linejoin="round" stroke-linecap="round"/>
<path transform="translate(81.00,0)" d="M0.7,0.7L4.1,5.0Q5.1,8.2 4.1,11.4L0.7,15.7" stroke-width="1.45" stroke-linejoin="round" stroke-linecap="round"/>
<path transform="translate(89.50,0)" d="M0.7,8.3L9.3,8.3" stroke-width="1.45" stroke-linejoin="round" stroke-linecap="round"/>
<path transform="translate(102.40,0)" d="M0.8,2.9L3.3,0.7L3.3,15.7M0.7,15.7L5.4,15.7" stroke-width="1.45" stroke-linejoin="round" stroke-linecap="round"/>
<path transform="translate(110.80,0)" d="M7.0,15.7L7.0,0.7L0.7,10.9L9.6,10.9" stroke-width="1.45" stroke-linejoin="round" stroke-linecap="round"/>
<path transform="translate(124.10,0)" d="M2.5,0.7L5.5,0.7L7.3,2.6L7.3,13.8L5.5,15.7L2.5,15.7L0.7,13.8L0.7,2.6Z" stroke-width="1.45" stroke-linejoin="round" stroke-linecap="round"/>
<path transform="translate(135.60,0)" d="M2.5,0.7L5.5,0.7L7.3,2.6L7.3,13.8L5.5,15.7L2.5,15.7L0.7,13.8L0.7,2.6Z" stroke-width="1.45" stroke-linejoin="round" stroke-linecap="round"/>
<path transform="translate(146.10,0)" d="M4.9,0.7L1.5,5.0Q0.5,8.2 1.5,11.4L4.9,15.7" stroke-width="1.45" stroke-linejoin="round" stroke-linecap="round"/>
<path transform="translate(155.20,0)" d="M0.8,15.7L0.8,4.9M0.8,6.6L2.3,4.9L3.5,4.9L4.7,6.4L4.7,15.7M4.7,6.4L5.9,4.9L7.2,4.9L8.8,6.6L8.8,15.7" stroke-width="1.45" stroke-linejoin="round" stroke-linecap="round"/>
<path transform="translate(167.50,0)" d="M8.8,4.9L8.8,15.7M8.8,8.0L6.6,4.9L3.0,4.9L0.8,7.2L0.8,13.4L3.0,15.7L6.6,15.7L8.8,12.6" stroke-width="1.45" stroke-linejoin="round" stroke-linecap="round"/>
<path transform="translate(180.80,0)" d="M0.8,4.9L9.0,15.7M9.0,4.9L0.8,15.7" stroke-width="1.45" stroke-linejoin="round" stroke-linecap="round"/>
<path transform="translate(194.10,0)" d="M0.7,0.7L4.1,5.0Q5.1,8.2 4.1,11.4L0.7,15.7" stroke-width="1.45" stroke-linejoin="round" stroke-linecap="round"/>
</g>
</g>
</svg>
</body></html>
